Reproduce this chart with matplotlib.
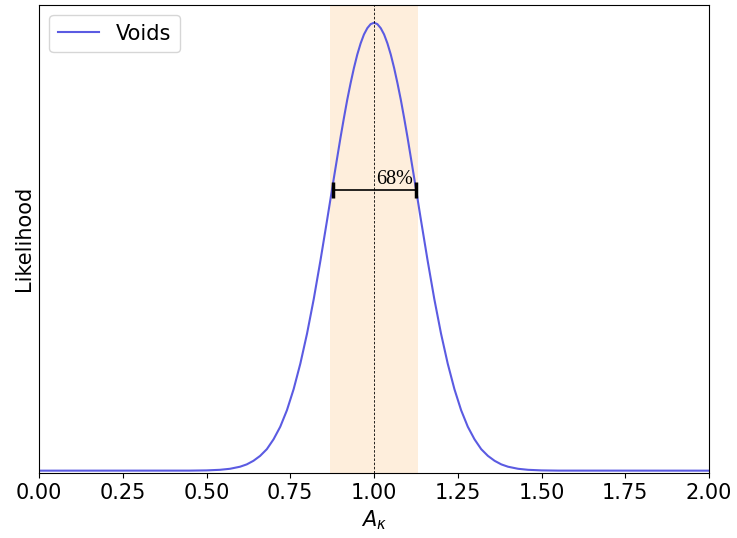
import matplotlib
matplotlib.use("Agg")
import matplotlib.pyplot as plt

# likelihood curve (peak normalised to 1)
a_kappa = [0.0, 0.45, 0.50, 0.54, 0.57, 0.60, 0.62, 0.64, 0.66, 0.68, 0.70,
           0.72, 0.74, 0.76, 0.78, 0.80, 0.82, 0.84, 0.86, 0.88, 0.90,
           0.91, 0.92, 0.93, 0.94, 0.95, 0.96, 0.97, 0.98, 0.99, 1.00,
           1.01, 1.02, 1.03, 1.04, 1.05, 1.06, 1.07, 1.08, 1.09, 1.10,
           1.12, 1.14, 1.16, 1.18, 1.20, 1.22, 1.24, 1.26, 1.28, 1.30,
           1.32, 1.34, 1.36, 1.38, 1.40, 1.43, 1.46, 1.50, 1.55, 2.0]
likelihood = [0.0, 0.0001, 0.0006, 0.0019, 0.0042, 0.0088, 0.014, 0.022,
              0.033, 0.048, 0.070, 0.098, 0.135, 0.182, 0.239, 0.306, 0.383,
              0.469, 0.560, 0.653, 0.744, 0.787, 0.828, 0.865, 0.899, 0.929,
              0.954, 0.974, 0.988, 0.997, 1.0, 0.997, 0.988, 0.974, 0.954,
              0.929, 0.899, 0.865, 0.828, 0.787, 0.744, 0.653, 0.560, 0.469,
              0.383, 0.306, 0.239, 0.182, 0.135, 0.098, 0.070, 0.048, 0.033,
              0.022, 0.014, 0.0088, 0.0042, 0.0019, 0.0006, 0.0001, 0.0]

best_fit = 1.0
band = (0.87, 1.13)
interval = (0.878, 1.125)
interval_level = 0.626
xticks = [0.0, 0.25, 0.5, 0.75, 1.0, 1.25, 1.5, 1.75, 2.0]

fig = plt.figure(figsize=(7.37, 5.38), dpi=100)
ax = fig.add_axes([0.053, 0.121, 0.909, 0.870])

ax.axvspan(band[0], band[1], color="#feeedc", lw=0, zorder=0)
ax.plot(a_kappa, likelihood, color="#5b5be2", lw=1.5, label="Voids")
ax.axvline(best_fit, color="black", ls="--", lw=0.6, dashes=(3, 2))

mid = (interval[0] + interval[1]) / 2
half = (interval[1] - interval[0]) / 2
ax.errorbar(mid, interval_level, xerr=half, color="black", lw=1.2,
            capsize=6, capthick=2.5)
ax.text(best_fit + 0.005, interval_level + 0.003, "68%", fontsize=14.5,
        family="Liberation Serif", ha="left", va="bottom")

ax.set_xlim(0, 2)
ax.set_ylim(-0.005, 1.04)
ax.set_xticks(xticks)
ax.set_xticklabels([f"{t:.2f}" for t in xticks])
ax.set_yticks([])
ax.tick_params(axis="x", labelsize=15)
ax.set_xlabel(r"$A_\kappa$", fontsize=15)
ax.set_ylabel("Likelihood", fontsize=15)
ax.legend(loc="upper left", fontsize=15)

fig.savefig("out.png", dpi=100)
